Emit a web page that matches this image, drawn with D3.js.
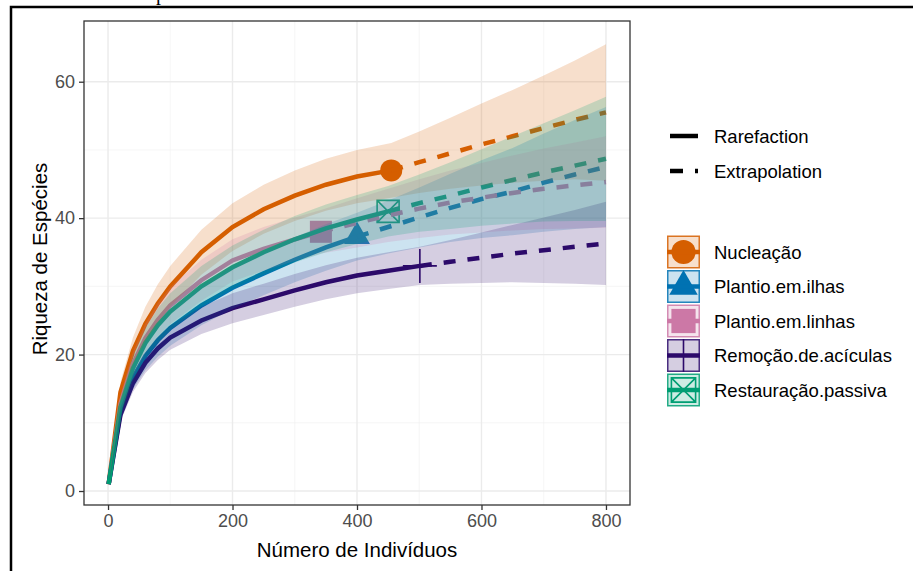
<!DOCTYPE html>
<html lang="pt">
<head>
<meta charset="UTF-8">
<title>Curvas de rarefação</title>
<style>
  body { margin: 0; background: #fff; overflow: hidden; }
  text { font-family: "Liberation Sans", Arial, sans-serif; }
</style>
</head>
<body>
<script src="https://cdn.jsdelivr.net/npm/d3@7/dist/d3.min.js"></script>
<script>
// grupos e cores
const groups = ['Nucleação', 'Plantio.em.ilhas', 'Plantio.em.linhas', 'Remoção.de.acículas', 'Restauração.passiva'];
const colors = ['#d55e00', '#0072b2', '#cc79a7', '#2c0a6b', '#009e73'];
const shapes = ['circle', 'triangle', 'square', 'plus', 'squareX'];
// ponto observado (n, riqueza)
const obsN = [455, 400, 342, 501, 450];
const obsS = [47, 37.3, 38, 33, 41];

// curvas: n, riqueza estimada, IC inferior, IC superior
const nucN  = [1, 20, 40, 60, 80, 100, 150, 200, 250, 300, 350, 400, 455, 500, 550, 600, 650, 700, 750, 800];
const nucS  = [1, 14.5, 20.5, 24.5, 27.5, 30, 35, 38.7, 41.3, 43.3, 44.9, 46.1, 47, 48.2, 49.5, 50.8, 52, 53.2, 54.4, 55.5];
const nucLo = [1, 13, 18.5, 22, 24.7, 27, 31.7, 35.2, 37.7, 39.6, 41.1, 42.2, 43, 43.7, 44.3, 44.8, 45.2, 45.5, 45.7, 45.5];
const nucHi = [1, 16, 22.5, 27, 30.3, 33, 38.3, 42.2, 44.9, 47, 48.7, 50, 51, 52.7, 54.7, 56.8, 58.8, 60.9, 63.1, 65.5];

const ilhN  = [1, 20, 40, 60, 80, 100, 150, 200, 250, 300, 350, 400, 450, 500, 550, 600, 650, 700, 750, 800];
const ilhS  = [1, 11.6, 16.6, 19.8, 22.1, 23.9, 27.2, 29.8, 31.9, 33.9, 35.7, 37.3, 38.7, 40.1, 41.5, 42.8, 43.9, 45.2, 46.4, 47.5];
const ilhLo = [1, 10.4, 14.9, 17.7, 19.7, 21.3, 24.3, 26.7, 28.7, 30.6, 32.3, 33.8, 34.8, 35.7, 36.5, 37.1, 37.5, 38, 38.4, 38.7];
const ilhHi = [1, 12.8, 18.3, 21.9, 24.5, 26.5, 30.1, 32.9, 35.1, 37.2, 39.1, 40.8, 42.6, 44.5, 46.5, 48.5, 50.3, 52.4, 54.4, 56.3];

const linN  = [1, 20, 40, 60, 80, 100, 150, 200, 250, 300, 342, 400, 450, 500, 550, 600, 650, 700, 750, 800];
const linS  = [1, 12.8, 18.6, 22.4, 25.1, 27.2, 30.9, 33.8, 35.5, 36.9, 38, 39.3, 40.4, 41.4, 42.3, 43, 43.7, 44.3, 44.8, 45.3];
const linLo = [1, 11.5, 16.8, 20.2, 22.6, 24.5, 27.9, 30.7, 32.3, 33.7, 34.8, 35.7, 36.5, 37.1, 37.6, 37.9, 38.2, 38.4, 38.5, 38.6];
const linHi = [1, 14.1, 20.4, 24.6, 27.6, 29.9, 33.9, 36.9, 38.7, 40.1, 41.2, 42.9, 44.3, 45.7, 47, 48.1, 49.2, 50.2, 51.1, 52];

const remN  = [1, 20, 40, 60, 80, 100, 150, 200, 250, 300, 350, 400, 450, 501, 550, 600, 650, 700, 750, 800];
const remS  = [1, 11.2, 15.8, 18.8, 20.9, 22.5, 25, 26.8, 28.1, 29.4, 30.6, 31.6, 32.3, 33, 33.6, 34.2, 34.8, 35.3, 35.8, 36.3];
const remLo = [1, 10.2, 14.5, 17.3, 19.2, 20.7, 23, 24.6, 25.8, 27, 28.1, 29, 29.6, 30.2, 30.4, 30.5, 30.6, 30.5, 30.4, 30.2];
const remHi = [1, 12.2, 17.1, 20.3, 22.6, 24.3, 27, 29, 30.4, 31.8, 33.1, 34.2, 35, 35.8, 36.8, 37.9, 39, 40.1, 41.2, 42.4];

const resN  = [1, 20, 40, 60, 80, 100, 150, 200, 250, 300, 350, 400, 450, 500, 550, 600, 650, 700, 750, 800];
const resS  = [1, 12.3, 18, 21.7, 24.3, 26.3, 30, 32.8, 35, 36.9, 38.5, 39.8, 41, 42.2, 43.3, 44.5, 45.6, 46.7, 47.7, 48.7];
const resLo = [1, 11, 16.2, 19.5, 21.8, 23.6, 27, 29.6, 31.7, 33.5, 35, 36.2, 37.3, 38, 38.4, 38.9, 39.2, 39.5, 39.6, 39.6];
const resHi = [1, 13.6, 19.8, 23.9, 26.8, 29, 33, 36, 38.3, 40.3, 42, 43.4, 44.7, 46.4, 48.2, 50.1, 52, 53.9, 55.8, 57.8];

const xTicks = [0, 200, 400, 600, 800];
const xMinor = [100, 300, 500, 700];
const yTicks = [0, 20, 40, 60];
const yMinor = [10, 30, 50];

const curves = [
    [nucN, nucS, nucLo, nucHi],
    [ilhN, ilhS, ilhLo, ilhHi],
    [linN, linS, linLo, linHi],
    [remN, remS, remLo, remHi],
    [resN, resS, resLo, resHi]
];

const series = groups.map((g, i) => {
    const [n, s, lo, hi] = curves[i];
    const pts = n.map((v, j) => ({ n: v, s: s[j], lo: lo[j], hi: hi[j] }));
    return {
        name: g, color: colors[i], shape: shapes[i],
        obs: { n: obsN[i], s: obsS[i] },
        pts: pts,
        rare: pts.filter(d => d.n <= obsN[i]),
        ext: pts.filter(d => d.n >= obsN[i])
    };
});

const width = 913, height = 571;
const pLeft = 84, pRight = 630, pTop = 21, pBottom = 505;

const svg = d3.select('body').append('svg')
    .attr('width', width)
    .attr('height', height);

// moldura externa (a pagina original esta cortada)
svg.append('rect')
    .attr('x', 11).attr('y', 7)
    .attr('width', 1000).attr('height', 1000)
    .attr('fill', 'none').attr('stroke', '#000').attr('stroke-width', 2.5);
svg.append('text')
    .attr('x', 156).attr('y', 0)
    .style('font-family', '"Liberation Serif", serif')
    .style('font-size', '20px')
    .text('p');

const x = d3.scaleLinear().domain([-38.6, 838.6]).range([pLeft, pRight]);
const y = d3.scaleLinear().domain([-2.05, 68.9]).range([pBottom, pTop]);

// grade
const grid = svg.append('g');
grid.selectAll('.vmin').data(xMinor).enter().append('line')
    .attr('x1', d => x(d)).attr('x2', d => x(d)).attr('y1', pTop).attr('y2', pBottom)
    .attr('stroke', '#f2f2f2').attr('stroke-width', 0.7);
grid.selectAll('.hmin').data(yMinor).enter().append('line')
    .attr('x1', pLeft).attr('x2', pRight).attr('y1', d => y(d)).attr('y2', d => y(d))
    .attr('stroke', '#f2f2f2').attr('stroke-width', 0.7);
grid.selectAll('.vmaj').data(xTicks).enter().append('line')
    .attr('x1', d => x(d)).attr('x2', d => x(d)).attr('y1', pTop).attr('y2', pBottom)
    .attr('stroke', '#ebebeb').attr('stroke-width', 1.4);
grid.selectAll('.hmaj').data(yTicks).enter().append('line')
    .attr('x1', pLeft).attr('x2', pRight).attr('y1', d => y(d)).attr('y2', d => y(d))
    .attr('stroke', '#ebebeb').attr('stroke-width', 1.4);

// simbolos
function drawShape(g, shape, color, cx, cy, k) {
    k = k || 1;
    if (shape === 'circle') {
        g.append('circle').attr('cx', cx).attr('cy', cy).attr('r', 11 * k).attr('fill', color);
    } else if (shape === 'triangle') {
        g.append('path').attr('d', d3.symbol().type(d3.symbolTriangle).size(290 * k * k)())
            .attr('transform', `translate(${cx},${cy})`).attr('fill', color);
    } else if (shape === 'square') {
        const h = 11 * k;
        g.append('rect').attr('x', cx - h).attr('y', cy - h).attr('width', 2 * h).attr('height', 2 * h)
            .attr('fill', color);
    } else if (shape === 'plus') {
        const h = 17 * k;
        g.append('path').attr('d', `M${cx - h},${cy}H${cx + h}M${cx},${cy - h}V${cy + h}`)
            .attr('stroke', color).attr('stroke-width', 1.6).attr('fill', 'none');
    } else {
        const h = 11 * k;
        g.append('path')
            .attr('d', `M${cx - h},${cy - h}H${cx + h}V${cy + h}H${cx - h}ZM${cx - h},${cy - h}L${cx + h},${cy + h}M${cx + h},${cy - h}L${cx - h},${cy + h}`)
            .attr('stroke', color).attr('stroke-width', 1.6).attr('fill', 'none');
    }
}

const plot = svg.append('g');

// pontos observados
series.forEach(s => drawShape(plot, s.shape, s.color, x(s.obs.n), y(s.obs.s), 1));

// linhas
const line = d3.line().x(d => x(d.n)).y(d => y(d.s));
series.forEach(s => {
    plot.append('path').datum(s.rare).attr('d', line)
        .attr('fill', 'none').attr('stroke', s.color).attr('stroke-width', 4.5);
    plot.append('path').datum(s.ext).attr('d', line)
        .attr('fill', 'none').attr('stroke', s.color).attr('stroke-width', 4.5)
        .attr('stroke-dasharray', '12,12');
});

// intervalos de confianca (por cima, como no ggiNEXT)
const area = d3.area().x(d => x(d.n)).y0(d => y(d.lo)).y1(d => y(d.hi));
series.forEach(s => {
    plot.append('path').datum(s.pts).attr('d', area)
        .attr('fill', s.color).attr('fill-opacity', 0.2);
});

// borda do painel
svg.append('rect')
    .attr('x', pLeft).attr('y', pTop).attr('width', pRight - pLeft).attr('height', pBottom - pTop)
    .attr('fill', 'none').attr('stroke', '#333').attr('stroke-width', 1.3);

// eixos
const xAxis = svg.append('g').attr('transform', `translate(0,${pBottom})`)
    .call(d3.axisBottom(x).tickValues(xTicks).tickSize(5).tickPadding(4));
const yAxis = svg.append('g').attr('transform', `translate(${pLeft},0)`)
    .call(d3.axisLeft(y).tickValues(yTicks).tickSize(5).tickPadding(4));
[xAxis, yAxis].forEach(a => {
    a.select('.domain').remove();
    a.attr('font-size', null);
    a.selectAll('.tick line').attr('stroke', '#333').attr('stroke-width', 1.3);
    a.selectAll('.tick text').attr('fill', '#4d4d4d')
        .style('font-family', '"Liberation Sans", Arial, sans-serif').style('font-size', '18px');
});

svg.append('text')
    .attr('x', (pLeft + pRight) / 2).attr('y', 557)
    .attr('text-anchor', 'middle').style('font-size', '20.5px')
    .text('Número de Indivíduos');
svg.append('text')
    .attr('transform', `translate(47,${(pTop + pBottom) / 2 - 4}) rotate(-90)`)
    .attr('text-anchor', 'middle').style('font-size', '20.5px')
    .text('Riqueza de Espécies');

// legenda de tipo de linha
const lt = svg.append('g');
[['Rarefaction', null, 136], ['Extrapolation', '13,12', 171]].forEach(([label, dash, ly]) => {
    const l = lt.append('line').attr('x1', 670).attr('x2', 698).attr('y1', ly).attr('y2', ly)
        .attr('stroke', '#000').attr('stroke-width', 4.5);
    if (dash) l.attr('stroke-dasharray', dash);
    lt.append('text').attr('x', 714).attr('y', ly + 6.5).style('font-size', '18.5px').text(label);
});

// legenda dos grupos
const lg = svg.append('g');
series.forEach((s, i) => {
    const cy = 252 + i * 34.5;
    const k = lg.append('g');
    k.append('rect').attr('x', 667).attr('y', cy - 16.5).attr('width', 33).attr('height', 33).attr('fill', '#fff');
    const inner = k.append('svg')
        .attr('x', 667).attr('y', cy - 16.5).attr('width', 33).attr('height', 33)
        .attr('viewBox', `667 ${cy - 16.5} 33 33`);
    drawShape(inner, s.shape, s.color, 683.5, cy, s.shape === 'plus' ? 0.97 : 1.1);
    inner.append('line').attr('x1', 667).attr('x2', 700).attr('y1', cy).attr('y2', cy)
        .attr('stroke', s.color).attr('stroke-width', 4.5);
    k.append('rect').attr('x', 667.75).attr('y', cy - 15.75).attr('width', 31.5).attr('height', 31.5)
        .attr('fill', s.color).attr('fill-opacity', 0.2)
        .attr('stroke', s.color).attr('stroke-opacity', 0.85).attr('stroke-width', 1.5);
    lg.append('text').attr('x', 714).attr('y', cy + 6.5).style('font-size', '18.5px').text(s.name);
});
</script>
</body>
</html>
